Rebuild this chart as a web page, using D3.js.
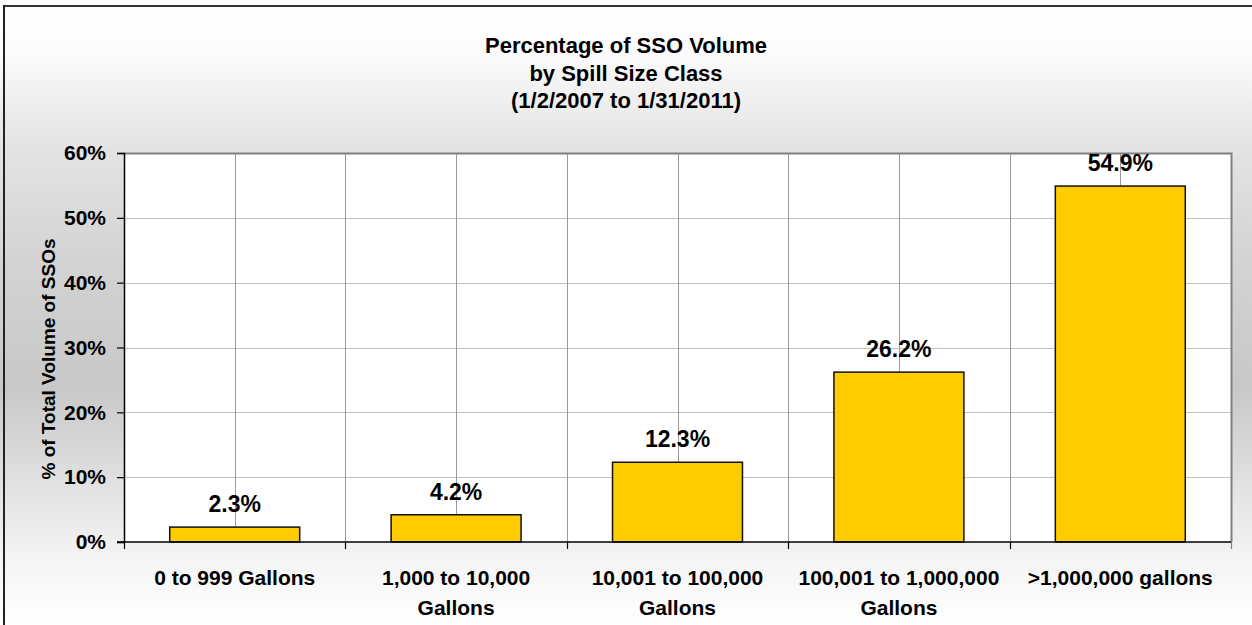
<!DOCTYPE html>
<html>
<head>
<meta charset="utf-8">
<script src="https://cdn.jsdelivr.net/npm/d3@7"></script>
<style>
  html, body { margin: 0; padding: 0; background: #fff; }
  svg { display: block; font-family: "Liberation Sans", Arial, sans-serif; }
</style>
</head>
<body>
<svg id="chart" width="1252" height="625"></svg>
<script>
// Spill size classes (label lines) and share of total SSO volume (%)
const categories = [
  ["0 to 999 Gallons"],
  ["1,000 to 10,000", "Gallons"],
  ["10,001 to 100,000", "Gallons"],
  ["100,001 to 1,000,000", "Gallons"],
  [">1,000,000 gallons"]
];
const volumeShare = [2.3, 4.2, 12.3, 26.2, 54.9];
const yTicks = [0, 10, 20, 30, 40, 50, 60];
const titleLines = ["Percentage of SSO Volume", "by Spill Size Class", "(1/2/2007 to 1/31/2011)"];
const yAxisTitle = "% of Total Volume of SSOs";

const W = 1252, H = 625;
const plot = { left: 124, right: 1231, top: 153, bottom: 542 };

const svg = d3.select("#chart");

// Background: vertical grey gradient
const defs = svg.append("defs");
const grad = defs.append("linearGradient")
  .attr("id", "bg").attr("x1", 0).attr("y1", 0).attr("x2", 0).attr("y2", 1);
[[0, "#ffffff"], [0.08, "#fcfcfc"], [0.23, "#e4e4e4"], [0.42, "#d3d3d3"],
 [0.62, "#c8c8c8"], [0.78, "#e2e2e2"], [0.9, "#f5f5f5"], [1, "#ffffff"]]
  .forEach(([o, c]) => grad.append("stop").attr("offset", o).attr("stop-color", c));
svg.append("rect").attr("width", W).attr("height", H).attr("fill", "url(#bg)");

// Outer frame (top and left edges)
svg.append("line").attr("x1", 3).attr("x2", W).attr("y1", 6).attr("y2", 6)
  .attr("stroke", "#333").attr("stroke-width", 2);
svg.append("line").attr("x1", 4).attr("x2", 4).attr("y1", 5).attr("y2", H)
  .attr("stroke", "#222").attr("stroke-width", 2);

const idx = categories.map((d, i) => i);
const x = d3.scaleBand().domain(idx)
  .range([plot.left, plot.right])
  .paddingInner(0.413).paddingOuter(0.2065);
const y = d3.scaleLinear().domain([0, 60]).range([plot.bottom, plot.top]);

// Plot area
svg.append("rect")
  .attr("x", plot.left).attr("y", plot.top)
  .attr("width", plot.right - plot.left).attr("height", plot.bottom - plot.top)
  .attr("fill", "#fff");

// Horizontal gridlines
svg.append("g").selectAll("line").data(yTicks.filter(t => t > 0 && t < 60)).join("line")
  .attr("x1", plot.left).attr("x2", plot.right)
  .attr("y1", d => Math.round(y(d)) + 0.5).attr("y2", d => Math.round(y(d)) + 0.5)
  .attr("stroke", "#c0c0c0").attr("stroke-width", 1);

// Vertical gridlines at category centres and boundaries
const step = x.step();
const vLines = [];
idx.forEach(i => {
  vLines.push(x(i) + x.bandwidth() / 2);
  if (i > 0) vLines.push(plot.left + i * step);
});
svg.append("g").selectAll("line").data(vLines).join("line")
  .attr("x1", d => Math.round(d) + 0.5).attr("x2", d => Math.round(d) + 0.5)
  .attr("y1", plot.top).attr("y2", plot.bottom)
  .attr("stroke", "#9a9a9a").attr("stroke-width", 1);

// Plot border (top and right)
svg.append("path")
  .attr("d", `M${plot.left},${plot.top + 0.5}H${plot.right + 0.5}V${plot.bottom}`)
  .attr("fill", "none").attr("stroke", "#808080").attr("stroke-width", 2);

// Bars
svg.append("g").selectAll("rect").data(volumeShare).join("rect")
  .attr("x", (d, i) => x(i))
  .attr("y", d => y(d))
  .attr("width", x.bandwidth())
  .attr("height", d => y(0) - y(d))
  .attr("fill", "#ffcc00")
  .attr("stroke", "#111").attr("stroke-width", 1.5);

// Value labels
svg.append("g").selectAll("text").data(volumeShare).join("text")
  .attr("x", (d, i) => x(i) + x.bandwidth() / 2)
  .attr("y", d => y(d) - 15)
  .attr("text-anchor", "middle")
  .attr("font-size", 23).attr("font-weight", "bold").attr("fill", "#000")
  .text(d => d.toFixed(1) + "%");

// Y axis
const yAxis = d3.axisLeft(y).tickValues(yTicks).tickFormat(d => d + "%")
  .tickSize(7).tickPadding(11);
const gy = svg.append("g").attr("transform", `translate(${plot.left},0)`).call(yAxis);
gy.select(".domain").attr("stroke", "#000").attr("stroke-width", 1.5);
gy.selectAll(".tick line").attr("stroke", "#000").attr("stroke-width", 1.2);
gy.selectAll(".tick text")
  .attr("font-size", 21).attr("font-weight", "bold").attr("fill", "#000")
  .attr("font-family", "Liberation Sans, Arial, sans-serif");

// X axis line and boundary ticks
svg.append("line").attr("x1", plot.left - 7).attr("x2", plot.right)
  .attr("y1", plot.bottom).attr("y2", plot.bottom)
  .attr("stroke", "#000").attr("stroke-width", 1.5);
const xTickPos = d3.range(categories.length + 1).map(i => plot.left + i * step);
svg.append("g").selectAll("line").data(xTickPos).join("line")
  .attr("x1", d => Math.round(d) + 0.5).attr("x2", d => Math.round(d) + 0.5)
  .attr("y1", plot.bottom).attr("y2", plot.bottom + 7)
  .attr("stroke", (d, i) => i === categories.length ? "#808080" : "#000")
  .attr("stroke-width", 1.2);

// Category labels
const xl = svg.append("g").selectAll("text").data(categories).join("text")
  .attr("text-anchor", "middle")
  .attr("font-size", 21).attr("font-weight", "bold").attr("fill", "#000");
xl.each(function(lines, i) {
  const t = d3.select(this);
  lines.forEach((ln, k) => {
    t.append("tspan")
      .attr("x", x(i) + x.bandwidth() / 2)
      .attr("y", 585 + k * 30)
      .text(ln);
  });
});

// Y axis title
svg.append("text")
  .attr("transform", `translate(55,359) rotate(-90)`)
  .attr("text-anchor", "middle")
  .attr("font-size", 19).attr("font-weight", "bold").attr("fill", "#000")
  .text(yAxisTitle);

// Title
svg.append("g").selectAll("text").data(titleLines).join("text")
  .attr("x", 626).attr("y", (d, i) => 53 + i * 27.5)
  .attr("text-anchor", "middle")
  .attr("font-size", 22).attr("font-weight", "bold").attr("fill", "#000")
  .text(d => d);
</script>
</body>
</html>
